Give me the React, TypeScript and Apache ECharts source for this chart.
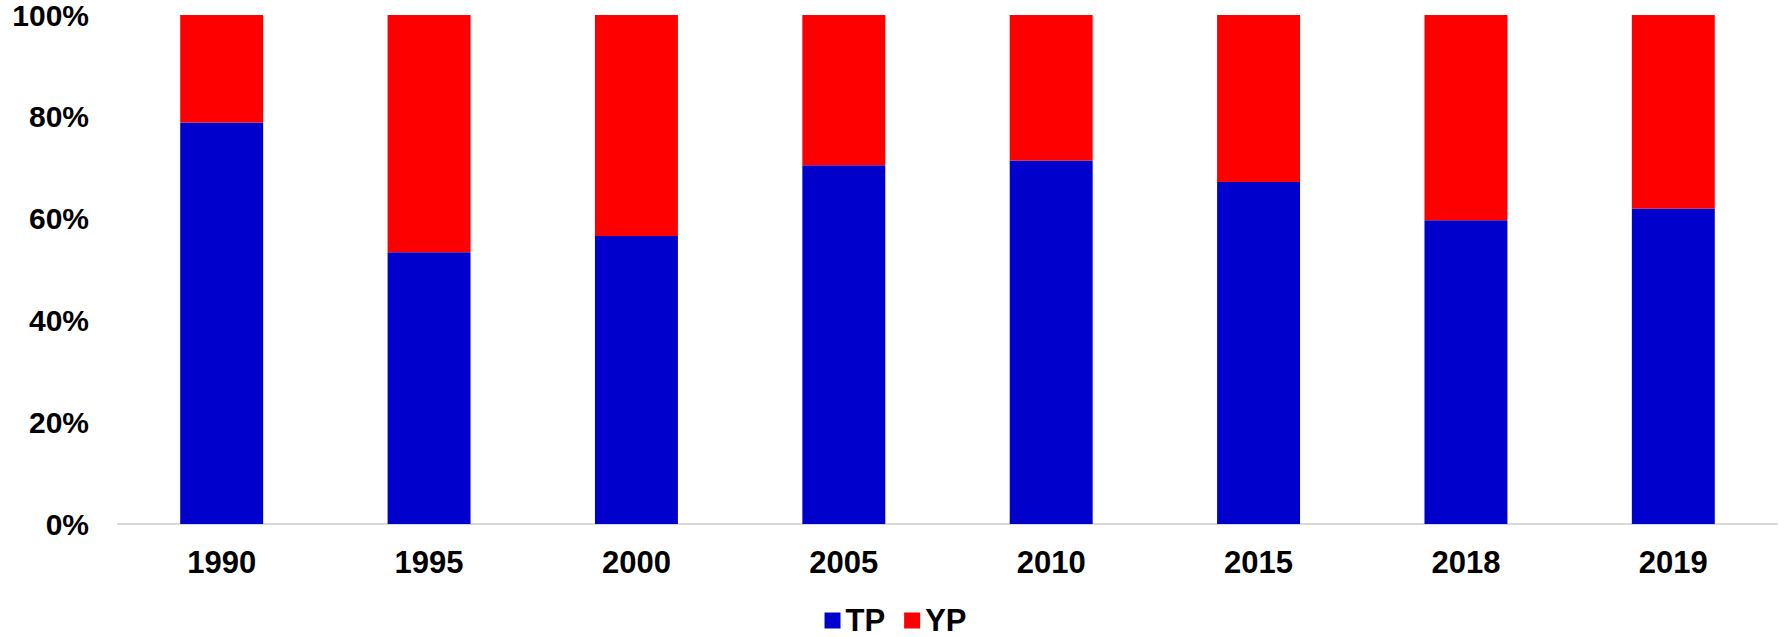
import React, { useEffect, useRef } from "react";
import * as echarts from "echarts";

const categories = ["1990", "1995", "2000", "2005", "2010", "2015", "2018", "2019"];
const tpValues = [0.789, 0.534, 0.566, 0.705, 0.714, 0.672, 0.597, 0.62];
const ypValues = [0.211, 0.466, 0.434, 0.295, 0.286, 0.328, 0.403, 0.38];
const seriesNames = ["TP", "YP"];

export default function App() {
  const ref = useRef<HTMLDivElement>(null);
  useEffect(() => {
    document.body.style.margin = "0";
    const chart = echarts.init(ref.current!, undefined, { renderer: "svg" });
    const font = "'Liberation Sans', Arial, sans-serif";
    chart.setOption({
      animation: false,
      backgroundColor: "#ffffff",
      grid: { left: 118, right: 14, top: 15, bottom: 113, containLabel: false },
      legend: {
        top: 605,
        left: "center",
        padding: 0,
        itemWidth: 16,
        itemHeight: 16,
        itemGap: 19,
        icon: "rect",
        textStyle: { fontFamily: font, fontWeight: "bold", fontSize: 31, color: "#000", lineHeight: 31 },
        data: seriesNames,
      },
      xAxis: {
        type: "category",
        data: categories,
        axisLine: { lineStyle: { color: "#D9D9D9", width: 2 } },
        axisTick: { show: false },
        axisLabel: { fontFamily: font, fontWeight: "bold", fontSize: 31, color: "#000", margin: 23 },
      },
      yAxis: {
        type: "value",
        min: 0,
        max: 1,
        interval: 0.2,
        splitLine: { show: false },
        axisLine: { show: false },
        axisTick: { show: false },
        axisLabel: {
          fontFamily: font,
          fontWeight: "bold",
          fontSize: 30,
          color: "#000",
          margin: 29,
          formatter: (v: number) => Math.round(v * 100) + "%",
        },
      },
      series: [
        {
          name: seriesNames[0],
          type: "bar",
          stack: "total",
          data: tpValues,
          barCategoryGap: "60%",
          itemStyle: { color: "#0000CC" },
        },
        {
          name: seriesNames[1],
          type: "bar",
          stack: "total",
          data: ypValues,
          barCategoryGap: "60%",
          itemStyle: { color: "#FF0000" },
        },
      ],
    });
    return () => chart.dispose();
  }, []);
  return <div ref={ref} style={{ width: 1791, height: 637 }} />;
}
